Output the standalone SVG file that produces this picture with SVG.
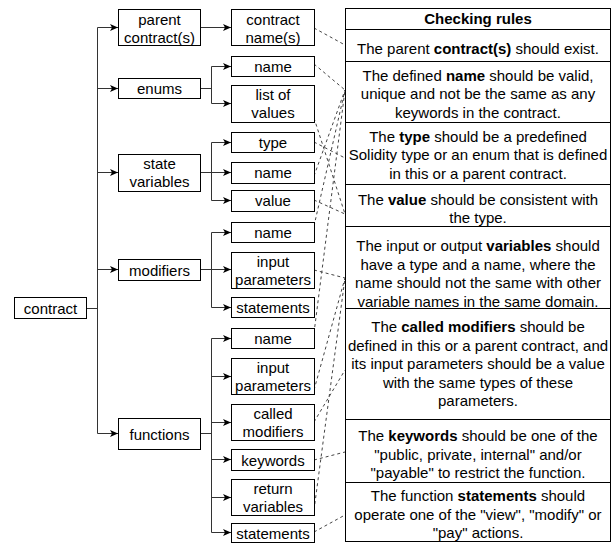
<svg xmlns="http://www.w3.org/2000/svg" width="614" height="543" viewBox="0 0 614 543">
<style>
.box{fill:#fff;stroke:#000;stroke-width:1}
.t{font-family:"Liberation Sans",Arial,sans-serif;font-size:15px;fill:#000;text-anchor:middle}
.b{font-weight:bold}
.c{stroke:#333;fill:none;stroke-width:1}
.d{stroke:#444;fill:none;stroke-width:1;stroke-dasharray:3 3}
</style>
<defs>
<marker id="arr" markerWidth="9" markerHeight="8" refX="8" refY="4" orient="auto" markerUnits="userSpaceOnUse">
<path d="M0,0.5 L8,4 L0,7.5 L2,4 z" fill="#000"/>
</marker>
</defs>
<rect width="614" height="543" fill="#fff"/>

<g id="connectors">
<path class="c" d="M87,308.5 H97.5"/>
<path class="c" d="M97.5,27.5 V433.5"/>
<path class="c" marker-end="url(#arr)" d="M97.5,27.5 H118"/>
<path class="c" marker-end="url(#arr)" d="M97.5,88.5 H118"/>
<path class="c" marker-end="url(#arr)" d="M97.5,172.5 H118"/>
<path class="c" marker-end="url(#arr)" d="M97.5,269.5 H118"/>
<path class="c" marker-end="url(#arr)" d="M97.5,433.5 H118"/>

<path class="c" marker-end="url(#arr)" d="M200,27.5 H231"/>

<path class="c" d="M200,88.5 H211.5 M211.5,66.5 V103.5"/>
<path class="c" marker-end="url(#arr)" d="M211.5,66.5 H231"/>
<path class="c" marker-end="url(#arr)" d="M211.5,103.5 H231"/>

<path class="c" d="M200,172.5 H211.5 M211.5,142.5 V200.5"/>
<path class="c" marker-end="url(#arr)" d="M211.5,142.5 H231"/>
<path class="c" marker-end="url(#arr)" d="M211.5,172.5 H231"/>
<path class="c" marker-end="url(#arr)" d="M211.5,200.5 H231"/>

<path class="c" d="M200,269.5 H211.5 M211.5,232.5 V307.5"/>
<path class="c" marker-end="url(#arr)" d="M211.5,232.5 H231"/>
<path class="c" marker-end="url(#arr)" d="M211.5,269.5 H231"/>
<path class="c" marker-end="url(#arr)" d="M211.5,307.5 H231"/>

<path class="c" d="M200,433.5 H211.5 M211.5,338.5 V532.5"/>
<path class="c" marker-end="url(#arr)" d="M211.5,338.5 H231"/>
<path class="c" marker-end="url(#arr)" d="M211.5,376.5 H231"/>
<path class="c" marker-end="url(#arr)" d="M211.5,422.5 H231"/>
<path class="c" marker-end="url(#arr)" d="M211.5,459.5 H231"/>
<path class="c" marker-end="url(#arr)" d="M211.5,497.5 H231"/>
<path class="c" marker-end="url(#arr)" d="M211.5,532.5 H231"/>

<path class="d" d="M314,28 L345,45"/>
<path class="d" d="M314,64 L345,90"/>
<path class="d" d="M314,176 L345,90"/>
<path class="d" d="M314,226 L345,90"/>
<path class="d" d="M314,333 L345,90"/>
<path class="d" d="M314,118 L345,214"/>
<path class="d" d="M314,142 L345,158"/>
<path class="d" d="M314,200 L345,214"/>
<path class="d" d="M314,270 L345,278"/>
<path class="d" d="M314,390 L345,278"/>
<path class="d" d="M314,510 L345,278"/>
<path class="d" d="M314,422 L345,370"/>
<path class="d" d="M314,460 L345,452"/>
<path class="d" d="M314,532 L345,515"/>
</g>

<g id="n-contract"><rect class="box" x="14.5" y="297.5" width="72" height="21"/><text class="t" x="50.5" y="313.5">contract</text></g>

<g id="n-parent"><rect class="box" x="118.5" y="9.5" width="82" height="36"/><text class="t" x="159.5" y="25">parent</text><text class="t" x="159.5" y="43">contract(s)</text></g>
<g id="n-enums"><rect class="box" x="118.5" y="78.5" width="82" height="20"/><text class="t" x="159.5" y="94">enums</text></g>
<g id="n-statevars"><rect class="box" x="118.5" y="154.5" width="82" height="37"/><text class="t" x="159.5" y="169">state</text><text class="t" x="159.5" y="187">variables</text></g>
<g id="n-modifiers"><rect class="box" x="118.5" y="259.5" width="82" height="21"/><text class="t" x="159.5" y="275.5">modifiers</text></g>
<g id="n-functions"><rect class="box" x="118.5" y="418.5" width="82" height="31"/><text class="t" x="159.5" y="439.5">functions</text></g>

<g id="n-contractnames"><rect class="box" x="231.5" y="9.5" width="83" height="36"/><text class="t" x="273" y="25">contract</text><text class="t" x="273" y="43">name(s)</text></g>
<g id="n-enum-name"><rect class="box" x="231.5" y="56.5" width="83" height="20"/><text class="t" x="273" y="72">name</text></g>
<g id="n-enum-values"><rect class="box" x="231.5" y="85.5" width="83" height="37"/><text class="t" x="273" y="100">list of</text><text class="t" x="273" y="118">values</text></g>
<g id="n-sv-type"><rect class="box" x="231.5" y="132.5" width="83" height="20"/><text class="t" x="273" y="148">type</text></g>
<g id="n-sv-name"><rect class="box" x="231.5" y="162.5" width="83" height="21"/><text class="t" x="273" y="178">name</text></g>
<g id="n-sv-value"><rect class="box" x="231.5" y="190.5" width="83" height="21"/><text class="t" x="273" y="206">value</text></g>
<g id="n-mod-name"><rect class="box" x="231.5" y="222.5" width="83" height="20"/><text class="t" x="273" y="238">name</text></g>
<g id="n-mod-input"><rect class="box" x="231.5" y="252.5" width="83" height="36"/><text class="t" x="273" y="267">input</text><text class="t" x="273" y="285">parameters</text></g>
<g id="n-mod-statements"><rect class="box" x="231.5" y="297.5" width="83" height="20"/><text class="t" x="273" y="313">statements</text></g>
<g id="n-fn-name"><rect class="box" x="231.5" y="328.5" width="83" height="20"/><text class="t" x="273" y="344">name</text></g>
<g id="n-fn-input"><rect class="box" x="231.5" y="358.5" width="83" height="36"/><text class="t" x="273" y="373">input</text><text class="t" x="273" y="391">parameters</text></g>
<g id="n-fn-called"><rect class="box" x="231.5" y="404.5" width="83" height="36"/><text class="t" x="273" y="419">called</text><text class="t" x="273" y="437">modifiers</text></g>
<g id="n-fn-keywords"><rect class="box" x="231.5" y="449.5" width="83" height="21"/><text class="t" x="273" y="465.5">keywords</text></g>
<g id="n-fn-return"><rect class="box" x="231.5" y="479.5" width="83" height="36"/><text class="t" x="273" y="494">return</text><text class="t" x="273" y="512">variables</text></g>
<g id="n-fn-statements"><rect class="box" x="231.5" y="523.5" width="83" height="19"/><text class="t" x="273" y="538.5">statements</text></g>

<g id="n-rules">
<rect class="box" x="345.5" y="8.5" width="265" height="21"/>
<text class="t b" x="478" y="24">Checking rules</text>
<rect class="box" x="345.5" y="29.5" width="265" height="32"/>
<text class="t" x="478" y="54">The parent <tspan class="b">contract(s)</tspan> should exist.</text>
<rect class="box" x="345.5" y="61.5" width="265" height="61"/>
<text class="t" x="478" y="80.5">The defined <tspan class="b">name</tspan> should be valid,</text>
<text class="t" x="478" y="99">unique and not be the same as any</text>
<text class="t" x="478" y="117.5">keywords in the contract.</text>
<rect class="box" x="345.5" y="122.5" width="265" height="62"/>
<text class="t" x="478" y="141.5">The <tspan class="b">type</tspan> should be a predefined</text>
<text class="t" x="478" y="160">Solidity type or an enum that is defined</text>
<text class="t" x="478" y="178.5">in this or a parent contract.</text>
<rect class="box" x="345.5" y="184.5" width="265" height="42"/>
<text class="t" x="478" y="204.5">The <tspan class="b">value</tspan> should be consistent with</text>
<text class="t" x="478" y="223">the type.</text>
<rect class="box" x="345.5" y="226.5" width="265" height="82"/>
<text class="t" x="478" y="251">The input or output <tspan class="b">variables</tspan> should</text>
<text class="t" x="478" y="269.5">have a type and a name, where the</text>
<text class="t" x="478" y="288">name should not the same with other</text>
<text class="t" x="478" y="306.5">variable names in the same domain.</text>
<rect class="box" x="345.5" y="308.5" width="265" height="111"/>
<text class="t" x="478" y="332">The <tspan class="b">called modifiers</tspan> should be</text>
<text class="t" x="478" y="350.5">defined in this or a parent contract, and</text>
<text class="t" x="478" y="369">its input parameters should be a value</text>
<text class="t" x="478" y="387.5">with the same types of these</text>
<text class="t" x="478" y="406">parameters.</text>
<rect class="box" x="345.5" y="419.5" width="265" height="63"/>
<text class="t" x="478" y="441">The <tspan class="b">keywords</tspan> should be one of the</text>
<text class="t" x="478" y="459.5">"public, private, internal" and/or</text>
<text class="t" x="478" y="478">"payable" to restrict the function.</text>
<rect class="box" x="345.5" y="482.5" width="265" height="59"/>
<text class="t" x="478" y="501">The function <tspan class="b">statements</tspan> should</text>
<text class="t" x="478" y="519.5">operate one of the "view", "modify" or</text>
<text class="t" x="478" y="537.5">"pay" actions.</text>
</g>
</svg>
